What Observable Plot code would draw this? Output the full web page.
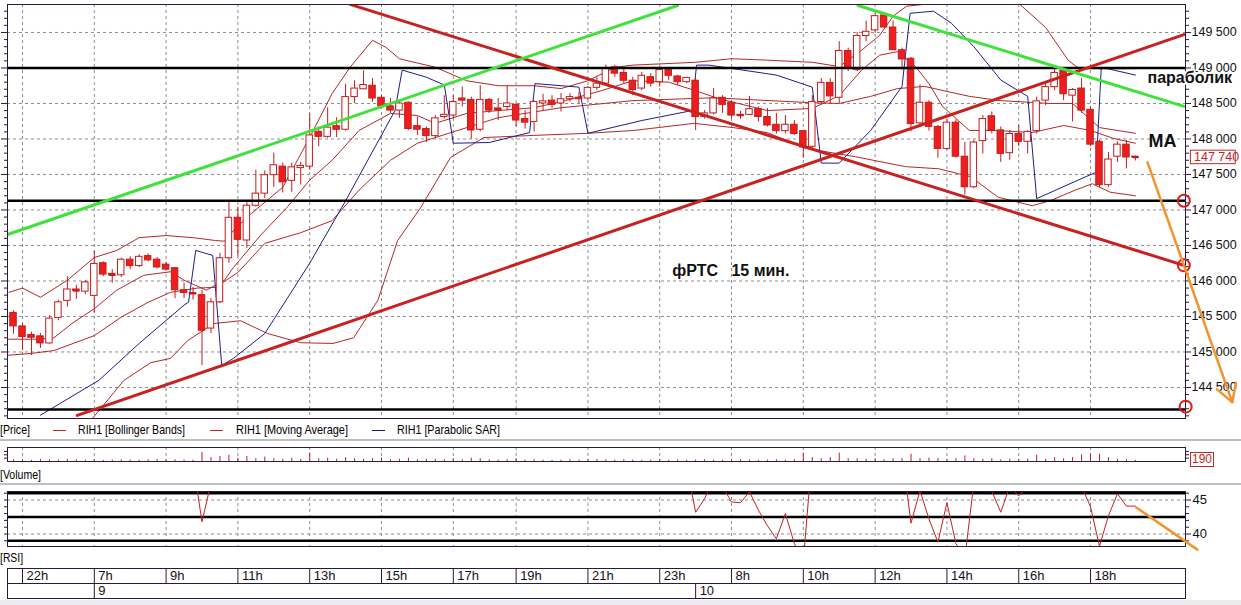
<!DOCTYPE html>
<html><head><meta charset="utf-8">
<script src="https://cdn.jsdelivr.net/npm/d3@7"></script>
<script src="https://cdn.jsdelivr.net/npm/@observablehq/plot@0.6"></script>
<style>
html,body{margin:0;padding:0;background:#fff;}
#root{position:relative;width:1241px;height:605px;overflow:hidden;background:#fff;font-family:"Liberation Sans",Arial,sans-serif;}
.pl{position:absolute;left:0;}
.lbl{position:absolute;font-size:13px;color:#000;white-space:pre;line-height:14px;transform-origin:0 50%;}
.sep{position:absolute;left:0;width:1241px;height:2px;background:#b9c1c1;}
.dash{position:absolute;height:1px;}
.box{position:absolute;border:1px solid #c02828;color:#c02828;font-size:12px;line-height:13px;text-align:center;background:#fff;font-family:"Liberation Sans",Arial,sans-serif;}
</style></head><body><div id="root"></div>
<script>
// ---------- DATA ----------
// candle index k: first candle is k = -1, 15-minute bars
const firstK = -1;
const openP = [
 145550,145360,145240,145220,145120,145480,145720,145880,145850,145790,
 146250,146100,146080,146300,146210,146350,146300,146230,146180,145870,
 145830,145800,145330,145700,146320,146890,146570,147060,147230,147490,
 147610,147410,147590,147610,148100,148030,148180,148130,148590,148700,
 148750,148580,148460,148400,148510,148180,148140,148040,148310,148330,
 148570,148550,148130,148550,148430,148450,148480,148280,148240,148500,
 148540,148500,148560,148560,148570,148720,148780,149010,148930,148820,
 148710,148870,148800,148970,148880,148800,148820,148310,148360,148580,
 148510,148340,148340,148420,148310,148200,148110,148200,148110,147890,
 148520,148790,148580,149240,148970,149450,149530,149740,149570,149250,
 149130,148220,148510,148170,147860,148230,147750,147320,147970,148320,
 148120,147800,148070,147960,148110,148540,148730,148960,148610,148710,
 148410,147960,147350,147750,147920,147750];
const highP = [
 145580,145400,145280,145260,145510,145730,146060,145940,146010,146420,
 146270,146160,146320,146340,146370,146380,146330,146260,146190,145970,
 145910,145870,145750,146390,147130,147040,147110,147560,147550,147800,
 147660,147660,147670,148350,148170,148440,148300,148770,148820,148960,
 148850,148610,148570,148520,148520,148310,148170,148330,148610,148610,
 148730,148590,148750,148570,148570,148750,148500,148400,148540,148630,
 148610,148640,148640,148660,148740,148870,149040,149040,148990,148870,
 148940,148920,149000,149000,148900,148870,148850,148400,148710,148610,
 148520,148390,148600,148450,148430,148360,148330,148260,148120,148610,
 148850,148850,149370,149280,149500,149660,149770,149780,149660,149280,
 149150,148760,148540,148190,148270,148270,147950,147980,148330,148380,
 148170,148120,148190,148120,148590,148780,148980,148990,148710,148850,
 148450,147980,147810,147960,147980,147760];
const lowP = [
 145250,145020,144950,145050,145110,145440,145630,145740,145810,145550,
 146060,145970,146050,146160,146190,146270,146170,146150,145750,145750,
 145730,144810,145260,145680,146250,146340,146460,147040,147160,147320,
 147240,147250,147350,147560,147890,148010,148020,148110,148500,148700,
 148520,148430,148360,148290,148120,148050,147950,148020,148280,148290,
 148450,148000,148100,148360,148260,148400,148170,148140,148100,148400,
 148430,148380,148520,148500,148540,148680,148750,148870,148780,148610,
 148680,148730,148730,148820,148750,148780,148120,148280,148340,148360,
 148280,148280,148330,148240,148170,148070,148070,148050,147730,147840,
 148480,148500,148500,148950,148950,149370,149490,149560,149250,148970,
 148100,148190,148110,147730,147840,147730,147210,147300,147790,148070,
 147670,147700,147890,147790,148070,148470,148680,148540,148240,148360,
 147890,147320,147320,147670,147580,147690];
const closeP = [
 145360,145210,145200,145120,145470,145700,145880,145860,145980,146240,
 146090,146080,146300,146210,146340,146290,146190,146160,145870,145830,
 145820,145300,145700,146320,146890,146580,147060,147230,147490,147630,
 147390,147600,147620,148050,148030,148160,148130,148590,148710,148760,
 148570,148460,148400,148500,148140,148130,148040,148290,148340,148520,
 148540,148120,148550,148400,148410,148500,148260,148230,148520,148530,
 148480,148560,148590,148580,148720,148780,149000,148920,148820,148690,
 148890,148780,148970,148890,148800,148860,148310,148360,148570,148480,
 148330,148330,148420,148310,148190,148110,148200,148070,147880,148520,
 148790,148600,149240,148990,149450,149510,149730,149570,149250,149120,
 148210,148510,148170,147860,148230,147750,147320,147950,148280,148120,
 147790,148070,147960,148100,148530,148730,148930,148630,148690,148400,
 147920,147350,147710,147920,147740,147740];
const volume = [
 300,250,200,350,300,250,400,300,250,300,200,250,300,250,200,300,350,250,300,250,250,
 1600,700,900,1100,600,900,500,800,500,400,600,400,1500,500,600,400,700,500,400,500,
 600,300,400,600,300,400,400,300,500,300,600,500,300,250,300,
 500,250,300,250,200,250,300,250,300,350,300,250,300,250,200,250,300,200,250,200,
 250,300,250,200,250,300,250,200,250,300,250,300,
 1500,700,500,700,1500,500,500,400,500,300,500,500,1300,500,600,500,300,500,1000,500,
 400,500,300,400,300,400,1100,400,700,500,700,1200,1300,1300,700,400,300,190];
const rsi = [
 52,50,49,48,51,53,55,55,56,60,58,57,59,58,59,58,57,56,52,51,
 50.5,41.8,47.5,
 55,60,57,60,62,64,65,62,63,63,67,66,67,66,70,71,71,67,64,63,64,58,57,56,60,60,
 61,61,55,60,56,56,55,54,50,54,55,55,56,55,56,57,58,59,62,60,58,55,58,56,58,55,
 50,43.2,45.2,48,47,44.7,44.6,46.2,43.5,41.2,39.3,43.0,38.6,36,52,
 55,53,60,56,60,62,65,60,55,52,
 41.6,46.4,42.2,38.8,44.6,38.6,36.5,47.5,50,46.3,43.2,47,45.6,47,52,55,58,52,53,47,
 44,38.2,42.7,45.9,44.1,44.1];
// indicator lines: [candle index, price]
const bbUpper = [[-1.5,145840],[0,145900],[2,145770],[5,146010],[8,146330],[10.5,146430],[13,146610],[16,146640],[19,146610],[21.5,146570],[22.5,146560],[23.5,146710],[25.5,146950],[29,147320],[32,148020],[34.5,148640],[36.5,149010],[39,149390],[40.5,149290],[42,149130],[46,149010],[49.5,148820],[53,148750],[57,148750],[60,148710],[63,148820],[66,149010],[68,149040],[75,149080],[79,149130],[83,149110],[88,149080],[91,149020],[93.5,149250],[95.5,149460],[97,149730],[98.5,149870],[101.5,149910],[104.5,150090],[108,150090],[111,149910],[114,149570],[116.5,149110],[117.5,149010],[120,148990],[124,148990]];
const bbMiddle = [[-2,144950],[1,144980],[3.5,145020],[8,145230],[11,145490],[14,145700],[16.5,145840],[19.5,145900],[21.5,145910],[24,146120],[27,146530],[31,146680],[34.5,146850],[37.5,147280],[41,147700],[44,147940],[47.5,148080],[53,148300],[60,148440],[68,148540],[77,148580],[88,148510],[91,148500],[94.5,148600],[97.5,148710],[100.5,148740],[103,148670],[105.5,148600],[109,148540],[114.5,148500],[117,148500],[120,148160],[124,148080]];
const bbLower = [[5.9,143750],[8.1,144110],[11.3,144600],[14.3,144850],[16.5,144910],[18.4,145160],[21.3,145400],[24.3,145440],[27.3,145260],[31,145130],[34.6,145120],[36.9,145200],[39.6,145730],[41.8,146570],[44.4,147040],[47.7,147740],[51.4,148020],[56.9,148050],[63,148080],[68.1,148120],[74.8,148220],[79.2,148160],[83,148090],[87.2,147870],[92.8,147750],[98.4,147610],[102.1,147580],[105.6,147470],[108.7,147180],[112.5,147060],[114.5,147130],[117.3,147280],[119.2,147370],[121.2,147250],[124,147200]];
const movingAvg = [[-2,145180],[2,145180],[3.5,145200],[5.5,145400],[8,145610],[10.5,145870],[13.5,146080],[16.5,146130],[18,146010],[20.5,145870],[22.5,146010],[23.5,146190],[26.5,146640],[29.5,147040],[32,147420],[34.5,147700],[37.5,148120],[41,148360],[44,148330],[46,148220],[49.5,148360],[53,148400],[57,148440],[60.5,148540],[64.5,148680],[68,148820],[72,148800],[75,148680],[77.5,148570],[83,148400],[88,148430],[91,148610],[93.5,148970],[95.5,149180],[97.5,149230],[99.5,149020],[101,148780],[102.5,148460],[105.5,148120],[108.5,148120],[112.5,148090],[116,148190],[119,148120],[121.5,148010],[124,147940]];
const parabolicSAR = [[2,144110],[8.5,144600],[13,145120],[18,145660],[18.5,145700],[19.3,146430],[21.2,146360],[22.2,144810],[23.5,144910],[27,145260],[32,146250],[36,147130],[41.5,148400],[42.3,148970],[45,148870],[47,148760],[48,147940],[52,147950],[56.5,148090],[57.1,148780],[62,148730],[63,148080],[69,148260],[74.6,148400],[75.1,149040],[76.5,149040],[84,148900],[88,148730],[89,147660],[91,147660],[94.5,148120],[98,148740],[98.9,149770],[101.5,149800],[103.5,149630],[106,149300],[109,148830],[112,148600],[113,147160],[118.5,147470],[119.6,147530],[120.2,149010],[124,148900]];
// hand-drawn lines
const levelLines = [149000, 147130, 144190];
const redDown = [[36.5,149895],[129.4,146220]];
const redUp = [[6.1,144106],[129.4,149470]];
const greenLeft = [[-1.67,146655],[73,149880]];
const greenRight = [[93.1,149880],[129.4,148460]];
const ringMarks = [[129.4,147130],[129.4,146220],[129.6,144230]];
const priceArrow = [[125.35,147670],[134.8,144290]];
const rsiLevels = [46, 42.5, 39];
const rsiArrow = [[124.1,43.9],[130.9,37.7]];
// axis labels
const hourK = [0,8,16,24,32,40,48,55,63,71,79,87,95,103,111,119];
const hourLabels = ["22h","7h","9h","11h","13h","15h","17h","19h","21h","23h","8h","10h","12h","14h","16h","18h"];
const dayK = [8, 75];
const dayLabels = ["9","10"];
const priceTicks = [144500,145000,145500,146000,146500,147000,147500,148000,148500,149000,149500];
const rsiTicks = [40, 45];
const notes = [
  {k:125.35, p:148860, text:"параболик"},
  {k:125.45, p:147975, text:"MA"},
  {k:72.4, p:146148, text:"фРТС\u00a0\u00a0\u00a015 мин."}
];
const legendItems = [
  {name:"RIH1 [Bollinger Bands]", color:"#c42424"},
  {name:"RIH1 [Moving Average]", color:"#c42424"},
  {name:"RIH1 [Parabolic SAR]", color:"#1a1a7a"}
];
const panelNames = ["[Price]", "[Volume]", "[RSI]"];

// ---------- STYLE / LAYOUT ----------
const W = 1241, ML = 7, MR = 56;
const kLo = (7 - 22) / 8.975, kHi = (1185 - 22) / 8.975;
const FRAME = "#2b1a3d", GRID = "#8c8c8c", RED = "#ec1e1e", WICK = "#c81a1a",
      BAND = "#b82626", SARC = "#1c1c8e", TREND = "#c92020", GREEN = "#3fe23a", ORANGE = "#f5922c";
const FONT = '"Liberation Sans", Arial, sans-serif';
const fmt = d => d3.format(",")(d).replace(/,/g, "\u00a0");
const root = document.getElementById("root");
function place(node, top) { const d = document.createElement("div"); d.className = "pl"; d.style.top = top + "px"; d.appendChild(node); root.appendChild(d); }
const xy = {x: d => d[0], y: d => d[1]};
const candles = openP.map((o, i) => ({k: firstK + i, o, h: highP[i], l: lowP[i], c: closeP[i]}));
const lastClose = closeP[closeP.length - 1];
const minorP = d3.range(144100, 149900, 100).filter(v => v % 500 !== 0);
const baseStyle = {fontFamily: FONT, fontSize: "12px", background: "transparent", overflow: "visible", color: "#111"};

// ---------- MAIN PRICE PANEL ----------
const main = Plot.plot({
  width: W, height: 420, marginLeft: ML, marginRight: MR, marginTop: 4, marginBottom: 2,
  x: {domain: [kLo, kHi], axis: null},
  y: {domain: [144063, 149894]},
  style: baseStyle,
  marks: [
    Plot.ruleY(priceTicks, {stroke: GRID, strokeDasharray: "3,3"}),
    Plot.ruleX(hourK, {stroke: GRID, strokeDasharray: "3,3"}),
    Plot.line(bbUpper, {...xy, stroke: BAND, strokeWidth: 1, clip: true}),
    Plot.line(bbMiddle, {...xy, stroke: BAND, strokeWidth: 1, clip: true}),
    Plot.line(bbLower, {...xy, stroke: BAND, strokeWidth: 1, clip: true}),
    Plot.line(movingAvg, {...xy, stroke: BAND, strokeWidth: 1, clip: true}),
    Plot.line(parabolicSAR, {...xy, stroke: SARC, strokeWidth: 1, clip: true}),
    Plot.ruleX(candles, {x: "k", y1: "l", y2: "h", stroke: WICK, strokeWidth: 1}),
    Plot.rect(candles, {x1: d => d.k - 0.36, x2: d => d.k + 0.36,
      y1: d => Math.min(d.o, d.c), y2: d => Math.max(d.o, d.c),
      fill: d => d.c < d.o ? RED : "#fff", stroke: WICK, strokeWidth: 1}),
    Plot.link(candles.filter(d => Math.abs(d.o - d.c) < 25), {x1: d => d.k - 0.36, x2: d => d.k + 0.36, y1: "c", y2: "c", stroke: WICK, strokeWidth: 1.5}),
    Plot.ruleY(levelLines, {stroke: "#000", strokeWidth: 2.5}),
    Plot.line(redDown, {...xy, stroke: TREND, strokeWidth: 3, clip: true}),
    Plot.line(redUp, {...xy, stroke: TREND, strokeWidth: 3, clip: true}),
    Plot.line(greenLeft, {...xy, stroke: GREEN, strokeWidth: 3, clip: true}),
    Plot.line(greenRight, {...xy, stroke: GREEN, strokeWidth: 3, clip: true}),
    Plot.frame({stroke: FRAME}),
    Plot.axisY({anchor: "right", ticks: minorP, tickSize: 3, tickFormat: () => "", stroke: FRAME}),
    Plot.axisY({anchor: "right", ticks: priceTicks, tickSize: 5, tickPadding: 1, tickFormat: fmt, stroke: FRAME, fontSize: 12.5}),
    Plot.axisY({anchor: "left", ticks: minorP, tickSize: 3, tickFormat: () => "", stroke: FRAME}),
    Plot.axisY({anchor: "left", ticks: priceTicks, tickSize: 6, tickFormat: () => "", stroke: FRAME}),
    Plot.rect([lastClose], {x1: kHi + 0.6, x2: kHi + 5.6, y1: d => d - 95, y2: d => d + 95, fill: "#fff", stroke: "#c02828"}),
    Plot.text([lastClose], {x: kHi + 0.95, y: d => d, text: fmt, textAnchor: "start", fill: "#c02828", fontSize: 12.5}),
    Plot.dot(ringMarks, {...xy, r: 6, stroke: "#e01818", strokeWidth: 2, fill: "none"}),
    Plot.arrow([priceArrow], {x1: d => d[0][0], y1: d => d[0][1], x2: d => d[1][0], y2: d => d[1][1], stroke: ORANGE, strokeWidth: 2.5, headLength: 12}),
    Plot.text(notes.slice(0, 1), {x: "k", y: "p", text: "text", textAnchor: "start", fontSize: 16, fontWeight: "bold", fill: "#111", stroke: "#fff", strokeWidth: 4, paintOrder: "stroke"}),
    Plot.text(notes.slice(1, 2), {x: "k", y: "p", text: "text", textAnchor: "start", fontSize: 18, fontWeight: "bold", fill: "#111"}),
    Plot.text(notes.slice(2, 3), {x: "k", y: "p", text: "text", textAnchor: "start", fontSize: 16, fontWeight: "bold", fill: "#111"})
  ]
});
place(main, 0);

// ---------- HTML LABELS ----------
function lbl(text, left, top, right) {
  const s = document.createElement("div"); s.className = "lbl"; s.textContent = text;
  s.style.left = left + "px"; s.style.top = top + "px"; root.appendChild(s);
  if (right) { const w = s.getBoundingClientRect().width; if (w > 0) s.style.transform = "scaleX(" + ((right - left) / w).toFixed(3) + ")"; }
  return s;
}
function dash(color, left, top, w) { const s = document.createElement("div"); s.className = "dash"; s.style.background = color; s.style.left = left + "px"; s.style.top = top + "px"; s.style.width = w + "px"; root.appendChild(s); }
lbl(panelNames[0], 0, 423, 30);
const legX = [[53, 78, 185], [210, 236, 348], [372, 397, 500]];
legendItems.forEach((it, i) => { dash(it.color, legX[i][0], 430, 13); lbl(it.name, legX[i][1], 423, legX[i][2]); });
const sep1 = document.createElement("div"); sep1.className = "sep"; sep1.style.top = "439px"; root.appendChild(sep1);

// ---------- VOLUME PANEL ----------
const vol = Plot.plot({
  width: W, height: 18, marginLeft: ML, marginRight: MR, marginTop: 2, marginBottom: 2,
  x: {domain: [kLo, kHi], axis: null},
  y: {domain: [0, 2500]},
  style: baseStyle,
  marks: [
    Plot.ruleX(hourK, {stroke: GRID, strokeDasharray: "3,3"}),
    Plot.ruleX(volume, {x: (d, i) => i + firstK, y1: 0, y2: d => d, stroke: "#c42020"}),
    Plot.frame({stroke: FRAME}),
    Plot.axisY({anchor: "right", ticks: [600, 1200, 1800], tickSize: 3, tickFormat: () => "", stroke: FRAME}),
    Plot.axisY({anchor: "left", ticks: [600, 1200, 1800], tickSize: 3, tickFormat: () => "", stroke: FRAME})
  ]
});
place(vol, 445);
const vb = document.createElement("div"); vb.className = "box"; vb.textContent = String(volume[volume.length - 1]);
Object.assign(vb.style, {left: "1190px", top: "452px", width: "22px", height: "13px"}); root.appendChild(vb);
lbl(panelNames[1], 0, 468, 41);
const sep2 = document.createElement("div"); sep2.className = "sep"; sep2.style.top = "483px"; root.appendChild(sep2);

// ---------- RSI PANEL ----------
const rsiPlot = Plot.plot({
  width: W, height: 60, marginLeft: ML, marginRight: MR, marginTop: 3, marginBottom: 2,
  x: {domain: [kLo, kHi], axis: null},
  y: {domain: [38.16, 46.25]},
  style: baseStyle,
  marks: [
    Plot.ruleY(rsiTicks, {stroke: GRID, strokeDasharray: "3,3"}),
    Plot.ruleX(hourK, {stroke: GRID, strokeDasharray: "3,3"}),
    Plot.ruleY(rsiLevels, {stroke: "#000", strokeWidth: 2.5}),
    Plot.line(rsi, {x: (d, i) => i + firstK, y: d => d, stroke: "#c42020", strokeWidth: 1, clip: true}),
    Plot.frame({stroke: FRAME}),
    Plot.axisY({anchor: "right", ticks: [39, 41, 42, 43, 44, 46], tickSize: 3, tickFormat: () => "", stroke: FRAME}),
    Plot.axisY({anchor: "right", ticks: rsiTicks, tickSize: 5, tickPadding: 2, stroke: FRAME, fontSize: 13}),
    Plot.axisY({anchor: "left", ticks: [39, 40, 41, 42, 43, 44, 45, 46], tickSize: 3, tickFormat: () => "", stroke: FRAME}),
    Plot.line(rsiArrow, {...xy, stroke: ORANGE, strokeWidth: 2.5})
  ]
});
place(rsiPlot, 488);
lbl(panelNames[2], 0, 551, 23);

// ---------- TIME AXIS ----------
const tAxis = Plot.plot({
  width: W, height: 33, marginLeft: ML, marginRight: MR, marginTop: 1, marginBottom: 2,
  x: {domain: [kLo, kHi], axis: null},
  y: {domain: [0, 2], axis: null},
  style: baseStyle,
  marks: [
    Plot.frame({stroke: FRAME}),
    Plot.ruleY([1], {stroke: FRAME}),
    Plot.ruleX(hourK, {y1: 1, y2: 2, stroke: FRAME}),
    Plot.ruleX(dayK, {y1: 0, y2: 1, stroke: FRAME}),
    Plot.text(hourLabels, {x: (d, i) => hourK[i], y: 1.5, text: d => d, textAnchor: "start", dx: 4, fontSize: 13, fill: "#111"}),
    Plot.text(dayLabels, {x: (d, i) => dayK[i], y: 0.5, text: d => d, textAnchor: "start", dx: 4, fontSize: 13, fill: "#111"})
  ]
});
place(tAxis, 567);
const bottomBand = document.createElement("div");
Object.assign(bottomBand.style, {position: "absolute", left: "0", top: "600px", width: "1241px", height: "5px", background: "#ececec"});
root.appendChild(bottomBand);
</script></body></html>
